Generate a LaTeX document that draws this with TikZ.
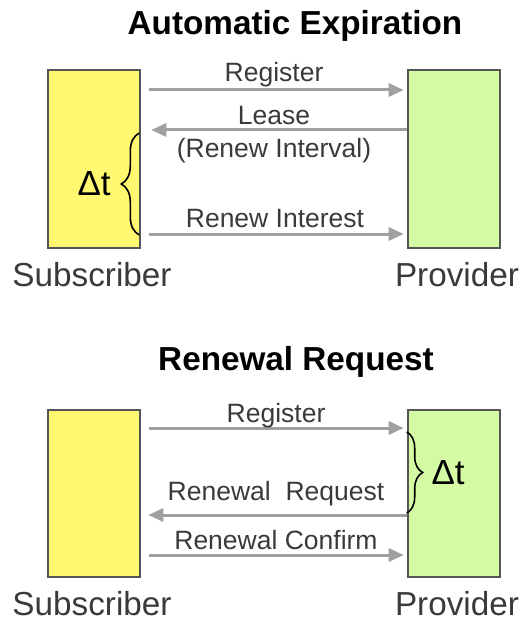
\documentclass[tikz,border=0pt]{standalone}
\usepackage{fontspec}
\setmainfont{Liberation Sans}
\usepackage{xcolor}
\usetikzlibrary{arrows.meta,decorations.pathreplacing}
\definecolor{cSub}{HTML}{FFF870}
\definecolor{cProv}{HTML}{D4FBA4}
\definecolor{cEdge}{HTML}{555555}
\definecolor{cArrow}{HTML}{A0A0A0}
\definecolor{cText}{HTML}{3A3A3A}
\tikzset{
  party/.style={draw=cEdge,fill=#1,line width=1.3bp,minimum width=46bp,inner sep=0pt},
  party/.default=cSub,
  msg/.style={-{Triangle[length=7.5bp,width=6.5bp]},line width=1.5bp,color=cArrow},
  lbl/.style={font=\fontsize{13.3}{15}\selectfont,text=cText,anchor=base,inner sep=0pt},
  ttl/.style={font=\fontsize{16.7}{19}\selectfont\bfseries,anchor=base,inner sep=0pt},
  role/.style={font=\fontsize{16.7}{19}\selectfont,text=cText,anchor=base,inner sep=0pt},
  brc/.style={decorate,decoration={brace,amplitude=#1},line width=0.8bp,color=black},
}
\begin{document}
\begin{tikzpicture}[x=0.5bp,y=-0.5bp,
    dt/.style={font=\fontsize{17.5}{20}\selectfont,inner sep=0pt}]
  \useasboundingbox (0,0) rectangle (531,622);
  % automatic expiration
  \node[ttl] (title1) at (295,35) {Automatic Expiration};
  \node[party=cSub,minimum height=89bp] (sub1) at (94,159) {};
  \node[party=cProv,minimum height=89bp] (prov1) at (454,159) {};
  \draw[msg] ([xshift=4bp]sub1.east |- 0,90) -- ([xshift=-1.5bp]prov1.west |- 0,90);
  \draw[msg] (prov1.west |- 0,130) -- ([xshift=5bp]sub1.east |- 0,130);
  \draw[msg] ([xshift=4bp]sub1.east |- 0,234) -- ([xshift=-1.5bp]prov1.west |- 0,234);
  \node[lbl] (reg1) at (274,82) {Register};
  \node[lbl] (lease) at (274,125) {Lease};
  \node[lbl] (interval) at (274,158) {(Renew Interval)};
  \node[lbl] (interest) at (275,228) {Renew Interest};
  \draw[brc=9bp] ([xshift=-1bp]sub1.east |- 0,235) -- node[dt,left=14bp] (dt1) {Δt} ([xshift=-1bp]sub1.east |- 0,133);
  % renewal request
  \node[ttl] (title2) at (296,370) {Renewal Request};
  \node[party=cSub,minimum height=83.5bp] (sub2) at (94,493.5) {};
  \node[party=cProv,minimum height=83.5bp] (prov2) at (454,493.5) {};
  \draw[msg] ([xshift=4bp]sub2.east |- 0,428) -- ([xshift=-1.5bp]prov2.west |- 0,428);
  \draw[msg] (prov2.west |- 0,515) -- ([xshift=3.5bp]sub2.east |- 0,515);
  \draw[msg] ([xshift=4bp]sub2.east |- 0,555) -- ([xshift=-1.5bp]prov2.west |- 0,555);
  \node[lbl] (reg2) at (276,422) {Register};
  \node[lbl] (request) at (276,500) {Renewal\ \ Request};
  \node[lbl] (confirm) at (276,549) {Renewal Confirm};
  \draw[brc=8bp] (prov2.west |- 0,432) -- node[dt,right=12bp] (dt2) {Δt} (prov2.west |- 0,513);
  % names under the boxes
  \foreach \i/\b in {1/286,2/615}{
    \node[role] (subname\i) at (92,\b) {Subscriber};
    \node[role] (provname\i) at (457,\b) {Provider};}
\end{tikzpicture}
\end{document}
